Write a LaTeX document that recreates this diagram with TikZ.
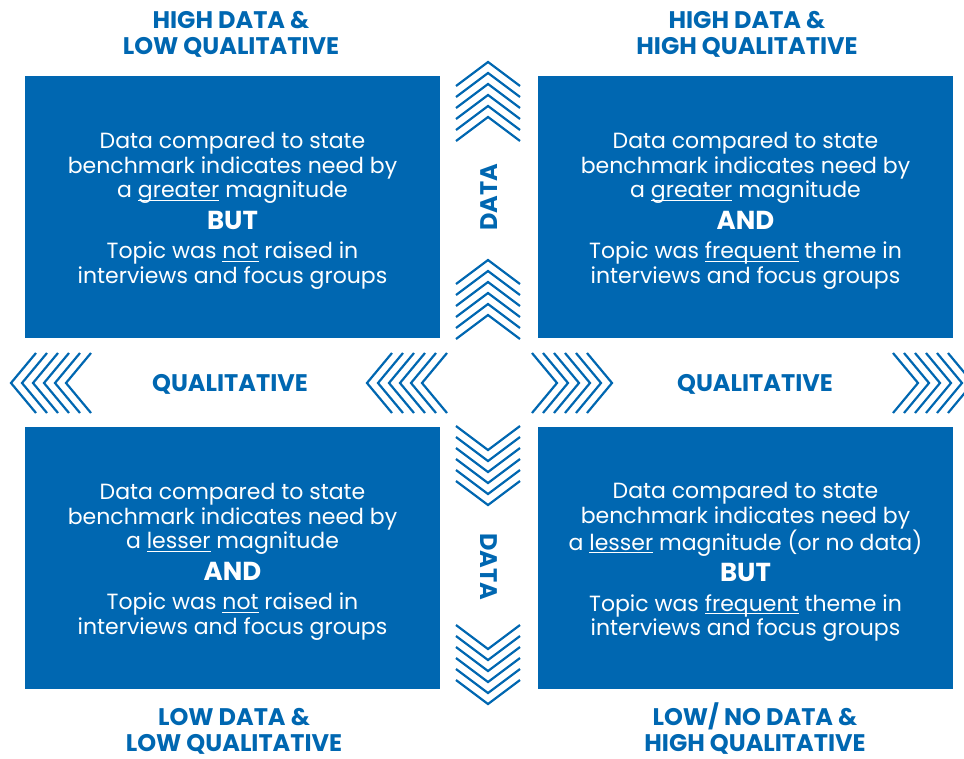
\documentclass[tikz,border=0pt]{standalone}
\usepackage{fontspec}
\setmainfont{Poppins}
\definecolor{quadblue}{RGB}{0,103,177}
\newcommand\ulin[1]{\setbox0\hbox{#1}\rlap{\rule[-3pt]{\wd0}{1.2pt}}\box0\relax}
\newcommand\joiner[1]{\\[7pt]{\bfseries\fontsize{26}{26}\selectfont #1}\\[5pt]}
\begin{document}
\begin{tikzpicture}[x=1pt, y=-1pt,
  quad/.style = {fill=quadblue, draw=none, inner sep=0pt,
    minimum width=415pt, minimum height=262pt},
  quadtext/.style = {text=white, align=center, yshift=-4pt,
    font=\fontsize{22}{24.5}\selectfont},
  corner/.style = {text=quadblue, align=center, inner sep=0pt,
    font=\bfseries\fontsize{24}{26}\selectfont},
  axis/.style = {text=quadblue, font=\bfseries\fontsize{24}{24}\selectfont},
  chev/.style = {draw=quadblue, line width=2.2pt}]
  \useasboundingbox (0,0) rectangle (964,758);
  \clip (0,0) rectangle (964,758);
  % quadrants
  \node[quad] (tl) at (232.5,207) {};
  \node[quad] (tr) at (745.5,207) {};
  \node[quad] (bl) at (232.5,558) {};
  \node[quad] (br) at (745.5,558) {};
  \node[quadtext] (tltext) at (tl) {Data compared to state\\
    benchmark indicates need by\\ a \ulin{greater} magnitude
    \joiner{BUT}
    Topic was \ulin{not} raised in\\ interviews and focus groups};
  \node[quadtext] (trtext) at (tr) {Data compared to state\\
    benchmark indicates need by\\ a \ulin{greater} magnitude
    \joiner{AND}
    Topic was \ulin{frequent} theme in\\ interviews and focus groups};
  \node[quadtext] (bltext) at (bl) {Data compared to state\\
    benchmark indicates need by\\ a \ulin{lesser} magnitude
    \joiner{AND}
    Topic was \ulin{not} raised in\\ interviews and focus groups};
  \node[quadtext] (brtext) at (br) {Data compared to state\\
    benchmark indicates need by\\ a \ulin{lesser} magnitude (or no data)
    \joiner{BUT}
    Topic was \ulin{frequent} theme in\\ interviews and focus groups};
  % corner labels
  \node[corner, anchor=base] (hl) at (231,54) {HIGH DATA \&\\ LOW QUALITATIVE};
  \node[corner, anchor=base] (hh) at (747,54) {HIGH DATA \&\\ HIGH QUALITATIVE};
  \node[corner, anchor=base] (ll) at (234,751) {LOW DATA \&\\ LOW QUALITATIVE};
  \node[corner, anchor=base] (lh) at (755,751) {LOW/ NO DATA \&\\ HIGH QUALITATIVE};
  % axis labels
  \node[axis, rotate=90] (dataup) at (489,197) {DATA};
  \node[axis, rotate=-90] (datadown) at (489,567) {DATA};
  \node[axis] (qualleft) at (230,384) {QUALITATIVE};
  \node[axis] (qualright) at (755,384) {QUALITATIVE};
  % chevrons up and down
  \foreach \y in {62,260} \foreach \i in {0,...,5}
    \draw[chev] (456,\y+\i*11+24) -- (488,\y+\i*11) -- (520,\y+\i*11+24);
  \foreach \y in {450,649} \foreach \i in {0,...,5}
    \draw[chev] (456,\y+\i*11-24) -- (488,\y+\i*11) -- (520,\y+\i*11-24);
  % chevrons left and right
  \foreach \x in {11,367} \foreach \i in {0,...,5}
    \draw[chev] (\x+\i*11+25,353) -- (\x+\i*11,383) -- (\x+\i*11+25,413);
  \foreach \x in {557,918} \foreach \i in {0,...,5}
    \draw[chev] (\x+\i*11-25,353) -- (\x+\i*11,383) -- (\x+\i*11-25,413);
\end{tikzpicture}
\end{document}
